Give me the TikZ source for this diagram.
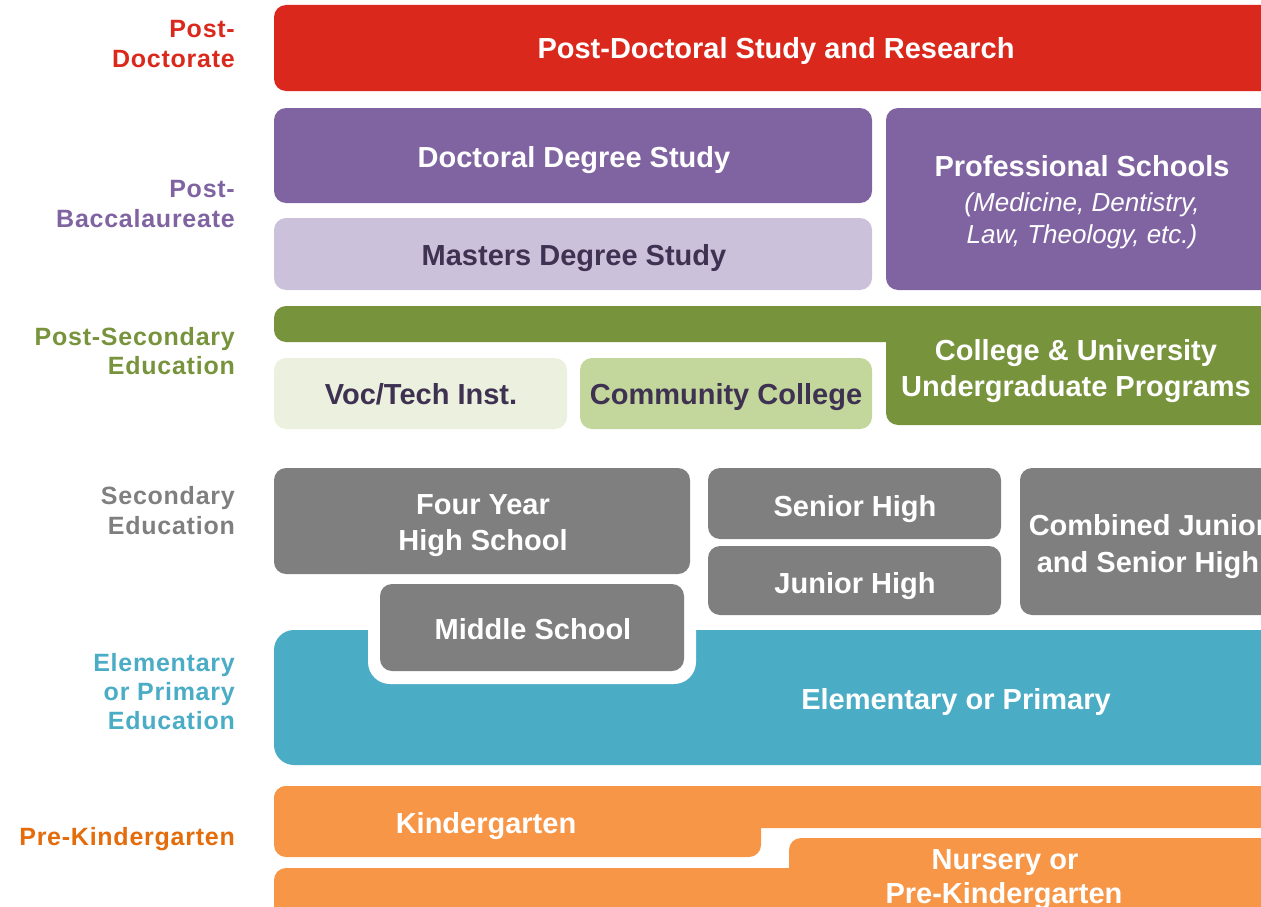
\documentclass[tikz,border=0pt]{standalone}
\usepackage{fontspec}
\setmainfont{Liberation Sans}
\newfontfamily\lblfont[LetterSpace=3]{Liberation Sans}
\definecolor{cred}{HTML}{DA291C}
\definecolor{cpurple}{HTML}{8064A2}
\definecolor{clav}{HTML}{CCC1DA}
\definecolor{cgreen}{HTML}{77933C}
\definecolor{cpale}{HTML}{EBF1DE}
\definecolor{clight}{HTML}{C3D69B}
\definecolor{cgray}{HTML}{7F7F7F}
\definecolor{cblue}{HTML}{4BACC6}
\definecolor{corange}{HTML}{F79646}
\definecolor{corlbl}{HTML}{E46C0A}
\definecolor{cdark}{HTML}{3F3151}
\begin{document}
\begin{tikzpicture}[x=1pt,y=-1pt,
  box/.style={rounded corners=12pt},
  big/.style={rounded corners=20pt},
  main/.style={anchor=base, inner sep=0pt, text=white, font=\fontsize{29}{33}\selectfont\bfseries},
  sub/.style={anchor=base, inner sep=0pt, text=white, font=\fontsize{26}{30}\selectfont\itshape},
  lbl/.style={anchor=base east, inner sep=0pt, font=\fontsize{25}{29}\selectfont\lblfont\bfseries}]
\useasboundingbox (0,0) rectangle (1261,907);
\clip (0,0) rectangle (1261,907);
% Post-doctorate
\fill[cred, box] (274,5) rectangle (1290,91);
% Post-baccalaureate
\fill[cpurple, box] (274,108) rectangle (872,203);
\fill[clav, box] (274,218) rectangle (872,290);
\fill[cpurple, box] (886,108) rectangle (1290,290);
% Post-secondary
\fill[cgreen, box] (274,306) rectangle (1290,342);
\fill[cgreen, box] (886,306) rectangle (1290,425);
\fill[cpale, box] (274,358) rectangle (567,429);
\fill[clight, box] (580,358) rectangle (872,429);
% Elementary
\fill[cblue, big] (274,630) rectangle (1290,765);
\fill[white, rounded corners=22pt] (368,560) rectangle (696,684);
% Secondary
\fill[cgray, box] (274,468) rectangle (690,574);
\fill[cgray, box] (708,468) rectangle (1001,539);
\fill[cgray, box] (708,546) rectangle (1001,615);
\fill[cgray, box] (1020,468) rectangle (1290,615);
\fill[cgray, box] (380,584) rectangle (684,671);
% Pre-kindergarten
\fill[corange, box] (274,786) rectangle (1290,828);
\fill[corange, box] (274,786) rectangle (761,857);
\fill[corange, box] (789,838) rectangle (1290,950);
\fill[corange, box] (274,868) rectangle (1290,950);

% texts
\node[main] (tpd) at (776,58.4) {Post-Doctoral Study and Research};
\node[main] (tdd) at (574,167.4) {Doctoral Degree Study};
\node[main, text=cdark] (tmd) at (574,265.4) {Masters Degree Study};
\node[main] (tps) at (1082,176.4) {Professional Schools};
\node[sub] (tps1) at (1082,211.3) {(Medicine, Dentistry,};
\node[sub] (tps2) at (1082,243.3) {Law, Theology, etc.)};
\node[main] (tcu1) at (1076,360.4) {College \& University};
\node[main] (tcu2) at (1076,396.4) {Undergraduate Programs};
\node[main, text=cdark] (tvt) at (421,404.4) {Voc/Tech Inst.};
\node[main, text=cdark] (tcc) at (726,404.4) {Community College};
\node[main] (tfy1) at (483,514.4) {Four Year};
\node[main] (tfy2) at (483,550.4) {High School};
\node[main] (tsh) at (855,516.4) {Senior High};
\node[main] (tjh) at (855,593.4) {Junior High};
\node[main] (tcj1) at (1148,535.4) {Combined Junior};
\node[main] (tcj2) at (1148,572.4) {and Senior High};
\node[main] (tms) at (533,639.4) {Middle School};
\node[main] (tep) at (956,709.4) {Elementary or Primary};
\node[main] (tkg) at (486,833.4) {Kindergarten};
\node[main] (tnp1) at (1005,869.4) {Nursery or};
\node[main] (tnp2) at (1004,903.4) {Pre-Kindergarten};

% left labels
\node[lbl, text=cred] (l1a) at (235,37.5) {Post-};
\node[lbl, text=cred] (l1b) at (235,67.5) {Doctorate};
\node[lbl, text=cpurple] (l2a) at (235,197.5) {Post-};
\node[lbl, text=cpurple] (l2b) at (235,227.5) {Baccalaureate};
\node[lbl, text=cgreen] (l3a) at (235,345) {Post-Secondary};
\node[lbl, text=cgreen] (l3b) at (235,374.5) {Education};
\node[lbl, text=cgray] (l4a) at (235,504.5) {Secondary};
\node[lbl, text=cgray] (l4b) at (235,534.5) {Education};
\node[lbl, text=cblue] (l5a) at (235,671.5) {Elementary};
\node[lbl, text=cblue] (l5b) at (235,700.5) {or Primary};
\node[lbl, text=cblue] (l5c) at (235,729.5) {Education};
\node[lbl, text=corlbl] (l6) at (235,845) {Pre-Kindergarten};
\end{tikzpicture}
\end{document}
